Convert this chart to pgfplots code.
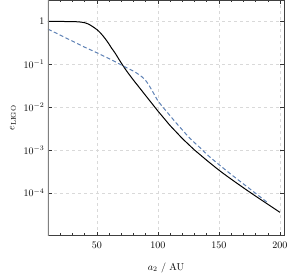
\documentclass[border=0pt]{standalone}
\usepackage{pgfplots}
\pgfplotsset{compat=1.18}
\definecolor{mblue}{RGB}{94,129,181}
\begin{document}
\begin{tikzpicture}
\begin{axis}[
  scale only axis,
  width=236pt, height=235.7pt,
  ymode=log,
  xmin=10, xmax=203.3,
  ymin=1e-5, ymax=3.16,
  xtick={50,100,150,200},
  minor xtick={10,20,30,40,60,70,80,90,110,120,130,140,160,170,180,190},
  ytick={1,0.1,0.01,0.001,0.0001},
  yticklabels={$1$,$10^{-1}$,$10^{-2}$,$10^{-3}$,$10^{-4}$},
  yminorticks=false,
  tick align=inside,
  major tick length=4pt,
  minor tick length=2.5pt,
  tick style={black!80, line width=0.5pt},
  axis line style={black!75, line width=0.6pt},
  xmajorgrids, ymajorgrids,
  major grid style={gray!30, dash pattern=on 3pt off 3pt, line width=0.6pt},
  xlabel={$a_2$ / AU},
  ylabel={$e_{\mathrm{LIGO}}$},
  xlabel style={at={(rel axis cs:0.5,0)}, anchor=center, yshift=-32pt},
  ylabel style={at={(rel axis cs:0,0.5)}, anchor=center, yshift=35pt},
  xticklabel style={yshift=-3pt},
  tick label style={font=\normalsize},
  label style={font=\normalsize},
]
\coordinate (A) at (rel axis cs:0,0);
\coordinate (B) at (rel axis cs:1,1);
\addplot[black, line width=1pt, smooth] coordinates {
(10,1.0) (20,0.998) (30,0.989) (35,0.977) (40,0.933) (43,0.871) (46,0.776)
(50,0.646) (53,0.537) (56.8,0.398) (60,0.295) (62,0.240) (65,0.182) (68,0.132)
(71.6,0.0912) (75,0.0661) (80,0.0427) (85,0.0282) (90,0.0186) (95,0.0123)
(100,0.00813) (105,0.00550) (110,0.00372) (115,0.00263) (120,0.00186)
(125,0.00136) (130,0.00100) (135,0.000759) (140,0.000575) (150,0.000339)
(160,0.000209) (175,0.000105) (190,0.0000543) (200,0.0000351)
};
\addplot[mblue, line width=1pt, dash pattern=on 4pt off 2.5pt, smooth] coordinates {
(10,0.661) (20,0.479) (30,0.347) (40,0.251) (50,0.186) (60,0.135) (65,0.115)
(71.6,0.0912) (80,0.0692) (85,0.0562) (88,0.0479) (90,0.0417) (92,0.0347)
(95,0.0251) (100,0.0141) (105,0.00933) (110,0.00631) (115,0.00427)
(120,0.00295) (125,0.00204) (130,0.00148) (135,0.00110) (140,0.000794)
(150,0.000457) (160,0.000269) (170,0.000162) (180,0.0000977) (190.4,0.0000575)
};
\draw[gray, line width=1.2pt] (rel axis cs:0,0) -- (rel axis cs:0,1);
\end{axis}
\pgfresetboundingbox
\path ([shift={(-48pt,-40.3pt)}]A) rectangle ([shift={(7pt,0pt)}]B);
\end{tikzpicture}
\end{document}
